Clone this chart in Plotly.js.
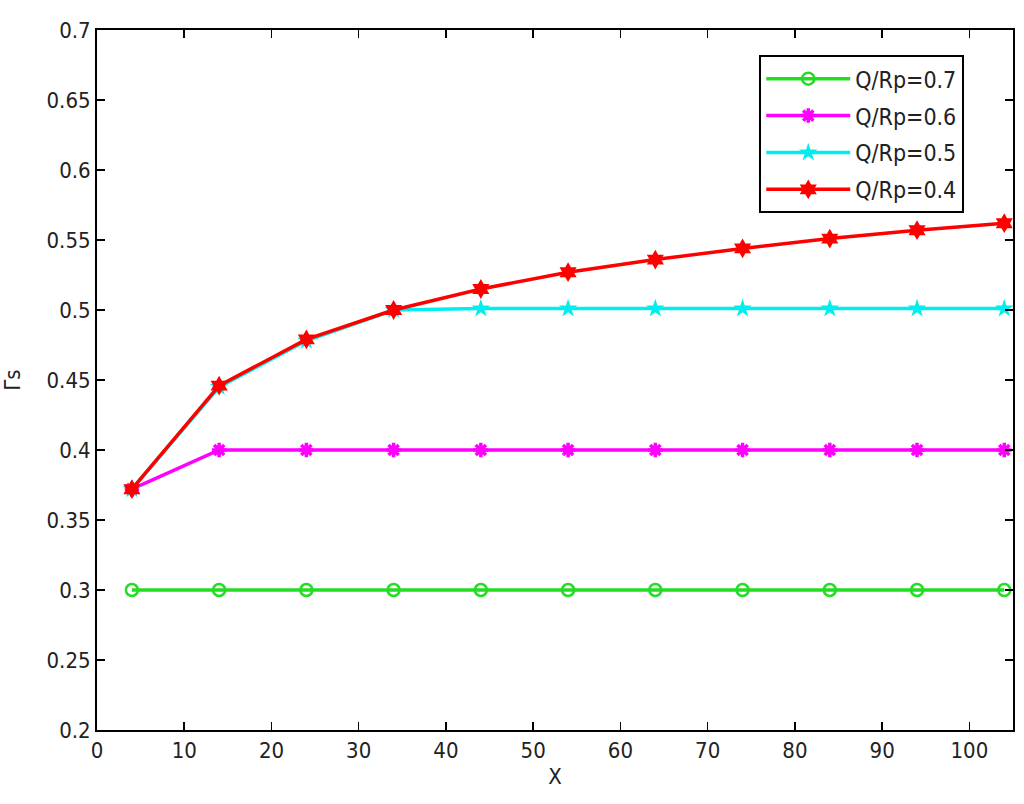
<!DOCTYPE html>
<html>
<head>
<meta charset="utf-8">
<script src="https://cdn.plot.ly/plotly-3.0.1.min.js"></script>
<style>
  html, body { margin: 0; padding: 0; background: #fff; }
  #chart { width: 1024px; height: 804px; }
</style>
</head>
<body>
<div id="chart"></div>
<script>
// X positions and the four curves
const xVals = [4, 14, 24, 34, 44, 54, 64, 74, 84, 94, 104];
const q07 = [0.300, 0.300, 0.300, 0.300, 0.300, 0.300, 0.300, 0.300, 0.300, 0.300, 0.300];
const q06 = [0.372, 0.400, 0.400, 0.400, 0.400, 0.400, 0.400, 0.400, 0.400, 0.400, 0.400];
const q05 = [0.372, 0.445, 0.478, 0.500, 0.501, 0.501, 0.501, 0.501, 0.501, 0.501, 0.501];
const q04 = [0.372, 0.446, 0.479, 0.500, 0.515, 0.527, 0.536, 0.544, 0.551, 0.557, 0.562];
const names = ['Q/Rp=0.7', 'Q/Rp=0.6', 'Q/Rp=0.5', 'Q/Rp=0.4'];

const fontFam = 'Liberation Sans Narrow, DejaVu Sans Condensed, Arial Narrow, sans-serif';

const traces = [
  { x: xVals, y: q07, name: names[0], legendgroup: 'a', mode: 'lines+markers',
    line: { color: '#22dd22', width: 3.5 },
    marker: { symbol: 'circle-open', size: 12, color: '#22dd22', line: { width: 2.5 } } },
  { x: xVals, y: q06, name: names[1], legendgroup: 'b', mode: 'lines+markers',
    line: { color: '#ff00ff', width: 3.5 },
    marker: { symbol: 'asterisk-open', size: 12, color: '#ff00ff', line: { width: 3.5, color: '#ff00ff' } } },
  { x: xVals, y: q05, name: names[2], legendgroup: 'c', mode: 'lines+markers',
    line: { color: '#00eeee', width: 3.5 },
    marker: { symbol: 'star', size: 14, color: '#00eeee' } },
  { x: xVals, y: q04, name: names[3], legendgroup: 'd', mode: 'lines+markers',
    line: { color: '#ff0000', width: 3.5 },
    marker: { symbol: 'hexagram', size: 15, color: '#ff0000' } },
];

const axisCommon = {
  showgrid: false, zeroline: false, showline: true, mirror: 'ticks',
  linecolor: '#000', linewidth: 2, ticks: 'inside', ticklen: 8,
  tickcolor: '#000', tickwidth: 1.5,
  tickfont: { family: fontFam, size: 22, color: '#222' },
};

const layout = {
  width: 1024, height: 804,
  paper_bgcolor: '#fff', plot_bgcolor: '#fff',
  margin: { l: 97, r: 11, t: 30, b: 74 },
  font: { family: fontFam, color: '#222' },
  xaxis: Object.assign({}, axisCommon, {
    range: [0, 105], dtick: 10, tick0: 0,
    title: { text: 'X', font: { family: fontFam, size: 22 }, standoff: 6 },
  }),
  yaxis: Object.assign({}, axisCommon, {
    range: [0.2, 0.7], dtick: 0.05, tick0: 0.2,
    title: { text: 'Γs', font: { family: fontFam, size: 22 }, standoff: 24 },
  }),
  showlegend: true,
  legend: {
    x: 0.723, y: 0.964, xanchor: 'left', yanchor: 'top',
    bgcolor: '#fff', bordercolor: '#000', borderwidth: 2,
    font: { family: fontFam, size: 23, color: '#222' },
    itemwidth: 84, tracegroupgap: 4,
  },
};

Plotly.newPlot('chart', traces, layout, { displayModeBar: false, staticPlot: true });
</script>
</body>
</html>
